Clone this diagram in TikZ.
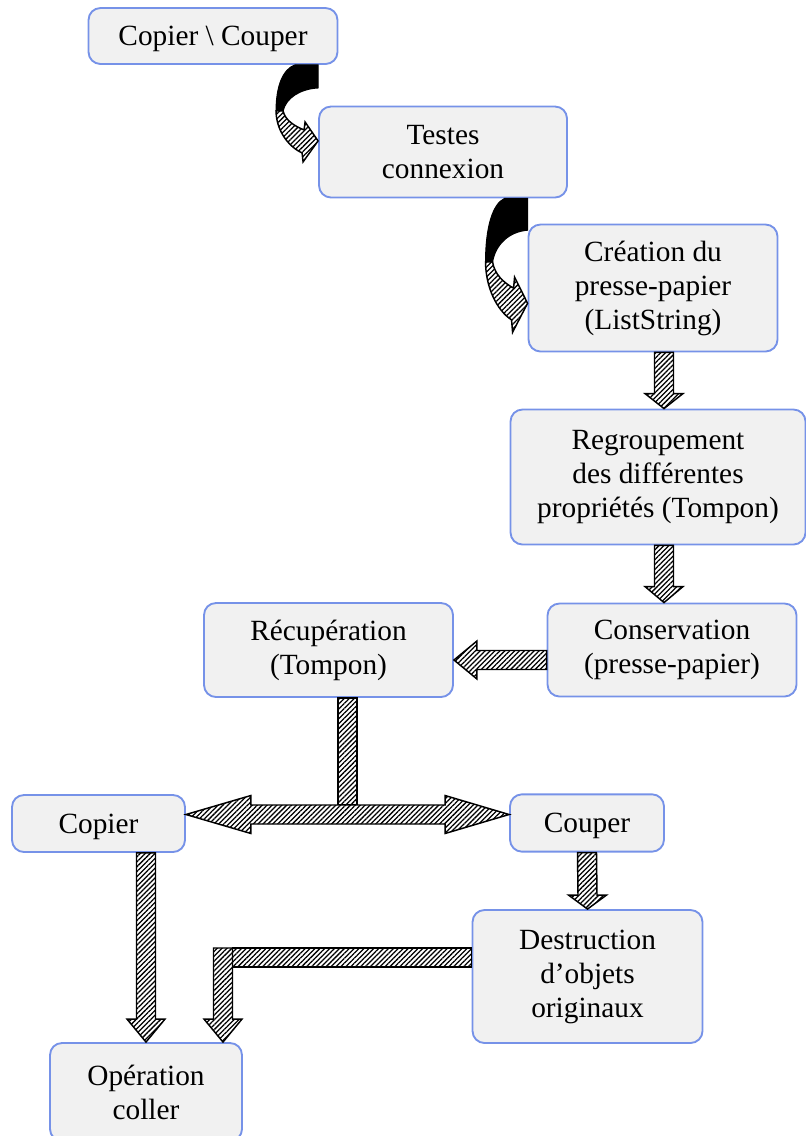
\documentclass[tikz,border=0pt]{standalone}
\usepackage{fontspec}
\setmainfont{Liberation Serif}
\usetikzlibrary{calc,patterns.meta}
\definecolor{boxline}{RGB}{118,146,232}
\definecolor{boxfill}{RGB}{241,241,241}
\tikzset{
  etape/.style={draw=boxline, fill=boxfill, line width=1.4pt, rounded corners=9pt,
    align=center, inner sep=0pt, font=\fontsize{22}{25.5}\selectfont},
  ligne/.style={text depth=0pt},
  fleche/.style={draw=black, line width=1.1pt, line join=miter, preaction={fill=white},
    pattern={Lines[angle=45,distance=2.6pt,line width=0.95pt]}},
  noir/.style={draw=black, fill=black, line width=0.8pt}
}
\newcommand{\flechebas}[3]{%
  \draw[fleche] ($(#1)+(-9.5,0)$) -- ($(#2)+(-9.5,-#3)$) -- ($(#2)+(-19,-#3)$) -- (#2)
    -- ($(#2)+(19,-#3)$) -- ($(#2)+(9.5,-#3)$) -- ($(#1)+(9.5,0)$) -- cycle;}
\newcommand{\flechecourbe}{%
  \fill[noir] (-23,0) -- (0,0) -- (0,23) .. controls (-18,24) and (-32,33) .. (-35,46)
    -- (-42,46) .. controls (-42,21) and (-35,4) .. cycle;
  \draw[fleche] (-42,46) .. controls (-42,64) and (-31,81) .. (-16,88) -- (-15,97) -- (0,76)
    -- (-13,57) -- (-14,65) .. controls (-24,61) and (-33,55) .. (-35,46) -- cycle;}
\begin{document}
\begin{tikzpicture}[x=0.75pt,y=-0.75pt]
\useasboundingbox (0,0) rectangle (806,1136);
\node[etape, ligne, minimum width=186.75pt, minimum height=42pt] (cc) at (213,36) {Copier \textbackslash{} Couper};
\node[etape, minimum width=186pt, minimum height=68.25pt] (tc) at (443,152) {Testes\\connexion};
\node[etape, minimum width=186.75pt, minimum height=95.25pt] (cp) at (653,288) {Création du\\presse-papier\\(ListString)};
\node[etape, minimum width=221.25pt, minimum height=101.25pt] (rg) at (658,477) {Regroupement\\des différentes\\propriétés (Tompon)};
\node[etape, minimum width=186.75pt, minimum height=69.75pt] (cs) at (672,650) {Conservation\\(presse-papier)};
\node[etape, minimum width=186.75pt, minimum height=70.5pt] (rc) at (328.5,650) {Récupération\\(Tompon)};
\node[etape, ligne, minimum width=129.75pt, minimum height=42.75pt] (cop) at (98.5,823.5) {Copier};
\node[etape, ligne, minimum width=115.5pt, minimum height=43pt] (cou) at (587,823) {Couper};
\node[etape, minimum width=172.5pt, minimum height=99.75pt] (ds) at (587.5,976.5) {Destruction\\d’objets\\originaux};
\node[etape, minimum width=144pt, minimum height=73.5pt] (op) at (146,1092) {Opération\\coller};

\begin{scope}[shift={(cc.south -| tc.west)}]
\flechecourbe
\end{scope}
\begin{scope}[shift={(tc.south -| cp.west)}, yscale=1.38]
\flechecourbe
\end{scope}

\coordinate (a1) at ($(cp.south)+(11,0)$);
\flechebas{a1}{a1 |- rg.north}{15}
\coordinate (a2) at ($(rg.south)+(6,0)$);
\flechebas{a2}{a2 |- cs.north}{16}

\coordinate (g1) at ($(cs.west)+(0,10)$);
\coordinate (g2) at (g1 -| rc.east);
\draw[fleche] ($(g1)+(0,-9.5)$) -- ($(g2)+(23,-9.5)$) -- ($(g2)+(23,-19)$) -- (g2)
  -- ($(g2)+(23,19)$) -- ($(g2)+(23,9.5)$) -- ($(g1)+(0,9.5)$) -- cycle;

\coordinate (hl) at ($(cop.east)+(0,-9)$);
\coordinate (hr) at (hl -| cou.west);
\draw[fleche] ($(rc.south)+(9.5,0)$) rectangle ($(rc.south |- hl)+(28.5,-9.5)$);
\draw[fleche] (hl) -- ($(hl)+(65,-19)$) -- ($(hl)+(65,-9.5)$) -- ($(hr)+(-64,-9.5)$)
  -- ($(hr)+(-64,-19)$) -- (hr) -- ($(hr)+(-64,19)$) -- ($(hr)+(-64,9.5)$)
  -- ($(hl)+(65,9.5)$) -- ($(hl)+(65,19)$) -- cycle;

\flechebas{cou.south}{ds.north}{14}
\flechebas{cop.south -| op.north}{op.north}{23}

\coordinate (eb) at ($(op.north)+(77,0)$);
\coordinate (ec) at ($(eb |- ds.west)+(0,-28.5)$);
\draw[fleche] ($(ec)+(9.5,0)$) rectangle ($(ds.west)+(0,-9.5)$);
\flechebas{ec}{eb}{23}
\end{tikzpicture}
\end{document}
